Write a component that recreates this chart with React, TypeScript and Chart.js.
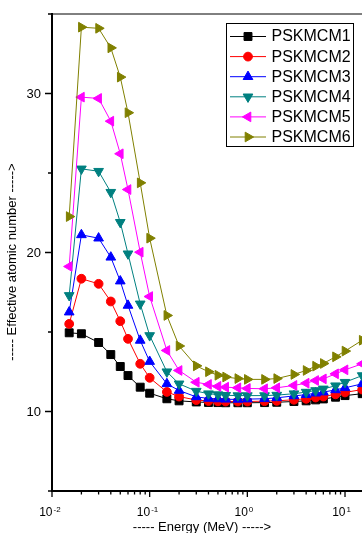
import React, { useEffect, useRef } from 'react';
import { Chart, registerables } from 'chart.js';

Chart.register(...registerables);

// ---------- data ----------
const energies = [0.015, 0.02, 0.03, 0.04, 0.05, 0.06, 0.08, 0.1, 0.15, 0.2, 0.3, 0.4, 0.5, 0.6, 0.8, 1, 1.5, 2, 3, 4, 5, 6, 8, 10, 15];

const pskmcm1 = [14.95, 14.89, 14.34, 13.58, 12.83, 12.26, 11.53, 11.15, 10.8, 10.67, 10.6, 10.57, 10.56, 10.55, 10.55, 10.55, 10.56, 10.58, 10.63, 10.67, 10.73, 10.79, 10.9, 11.0, 11.12];
const pskmcm2 = [15.51, 18.35, 18.03, 16.92, 15.68, 14.57, 13.0, 12.12, 11.23, 10.94, 10.72, 10.66, 10.64, 10.63, 10.63, 10.63, 10.65, 10.67, 10.74, 10.8, 10.88, 10.94, 11.08, 11.2, 11.38];
const pskmcm3 = [16.25, 21.11, 20.9, 19.7, 18.2, 16.67, 14.47, 13.14, 11.74, 11.32, 10.92, 10.82, 10.79, 10.77, 10.76, 10.78, 10.8, 10.86, 10.98, 11.06, 11.15, 11.22, 11.36, 11.49, 11.74];
const pskmcm4 = [17.3, 25.26, 25.11, 23.79, 21.9, 19.92, 16.77, 14.78, 12.5, 11.74, 11.28, 11.12, 11.06, 11.02, 11.0, 11.0, 11.0, 11.03, 11.12, 11.22, 11.32, 11.42, 11.62, 11.84, 12.26];
const pskmcm5 = [19.12, 29.77, 29.69, 28.26, 26.21, 23.96, 20.02, 17.23, 13.84, 12.58, 11.84, 11.7, 11.58, 11.53, 11.49, 11.45, 11.43, 11.49, 11.64, 11.78, 11.95, 12.05, 12.37, 12.62, 13.0];
const pskmcm6 = [22.26, 34.17, 34.1, 32.87, 31.03, 28.79, 24.38, 20.9, 16.04, 14.12, 12.87, 12.5, 12.28, 12.17, 12.07, 12.02, 12.02, 12.07, 12.33, 12.58, 12.85, 13.02, 13.44, 13.8, 14.48];

const seriesValues = [pskmcm1, pskmcm2, pskmcm3, pskmcm4, pskmcm5, pskmcm6];
const seriesNames = ['PSKMCM1', 'PSKMCM2', 'PSKMCM3', 'PSKMCM4', 'PSKMCM5', 'PSKMCM6'];

const yMajorTicks = [10, 20, 30];
const yMinorTicks = [5, 15, 25, 35];
const xMajorTicks = [0.01, 0.1, 1, 10];
const xMajorExponents = ['-2', '-1', '0', '1'];
const xMinorMultipliers = [2, 3, 4, 5, 6, 7, 8, 9];
const xTitle = '----- Energy (MeV) ----->';
const yTitle = '----- Effective atomic number ----->';

// ---------- styles ----------
const seriesColors = ['#000000', '#ff0000', '#0000ff', '#008080', '#ff00ff', '#808000'];
const markerStyles = ['rect', 'circle', 'triangle', 'triangle', 'triangle', 'triangle'];
const markerRotations = [0, 0, 0, 180, 270, 90];
const markerRadii = [5.6, 4.4, 5.6, 5.6, 5.6, 5.6];

const FONT = "'Liberation Sans', Arial, Helvetica, sans-serif";
const CANVAS_W = 400;
const CANVAS_H = 533;
const X_MIN = 0.01;
const X_MAX = 20;
const PLOT_LEFT = 52;
const PLOT_TOP = 14;
const PLOT_BOTTOM = 491;
const DECADE_PX = 97.67;
const PLOT_RIGHT = PLOT_LEFT + DECADE_PX * Math.log10(X_MAX / X_MIN);

function drawMarker(ctx: CanvasRenderingContext2D, style: string, x: number, y: number, r: number, rot: number, color: string) {
  ctx.save();
  ctx.fillStyle = color;
  ctx.strokeStyle = color;
  ctx.lineWidth = 1;
  ctx.beginPath();
  if (style === 'rect') {
    const s = Math.SQRT1_2 * r;
    ctx.rect(x - s, y - s, 2 * s, 2 * s);
  } else if (style === 'circle') {
    ctx.arc(x, y, r, 0, Math.PI * 2);
  } else {
    let rad = (rot * Math.PI) / 180;
    ctx.moveTo(x + Math.sin(rad) * r, y - Math.cos(rad) * r);
    rad += (2 * Math.PI) / 3;
    ctx.lineTo(x + Math.sin(rad) * r, y - Math.cos(rad) * r);
    rad += (2 * Math.PI) / 3;
    ctx.lineTo(x + Math.sin(rad) * r, y - Math.cos(rad) * r);
    ctx.closePath();
  }
  ctx.fill();
  ctx.stroke();
  ctx.restore();
}

const decorPlugin = {
  id: 'decor',
  afterDraw(chart: any) {
    const { ctx, chartArea } = chart;
    const xs = chart.scales.x;
    const ys = chart.scales.y;
    const left = chartArea.left;
    const bottom = chartArea.bottom;
    const top = chartArea.top;
    ctx.save();

    // top border (thin)
    ctx.strokeStyle = '#000';
    ctx.lineWidth = 1;
    ctx.beginPath();
    ctx.moveTo(left, top);
    ctx.lineTo(CANVAS_W, top);
    ctx.stroke();

    // left + bottom axes
    ctx.lineWidth = 2;
    ctx.beginPath();
    ctx.moveTo(left, top - 1);
    ctx.lineTo(left, bottom + 1);
    ctx.moveTo(left - 1, bottom);
    ctx.lineTo(CANVAS_W, bottom);
    ctx.stroke();

    // y ticks
    ctx.lineWidth = 1.3;
    ctx.beginPath();
    yMajorTicks.forEach((v) => {
      const py = ys.getPixelForValue(v);
      ctx.moveTo(left - 7, py);
      ctx.lineTo(left, py);
    });
    yMinorTicks.forEach((v) => {
      const py = ys.getPixelForValue(v);
      ctx.moveTo(left - 4, py);
      ctx.lineTo(left, py);
    });
    // x ticks
    xMajorTicks.forEach((v) => {
      const px = xs.getPixelForValue(v);
      ctx.moveTo(px, bottom);
      ctx.lineTo(px, bottom + 6);
      xMinorMultipliers.forEach((m) => {
        const mv = v * m;
        if (mv <= X_MAX) {
          const mx = xs.getPixelForValue(mv);
          ctx.moveTo(mx, bottom);
          ctx.lineTo(mx, bottom + 3.5);
        }
      });
    });
    ctx.stroke();

    // y labels
    ctx.fillStyle = '#000';
    ctx.font = `13px ${FONT}`;
    ctx.textAlign = 'right';
    ctx.textBaseline = 'middle';
    yMajorTicks.forEach((v) => {
      ctx.fillText(String(v), left - 11, ys.getPixelForValue(v) + 0.5);
    });

    // x labels with superscript exponent
    ctx.textBaseline = 'alphabetic';
    xMajorTicks.forEach((v, i) => {
      const px = xs.getPixelForValue(v);
      ctx.font = `12px ${FONT}`;
      ctx.textAlign = 'right';
      ctx.fillText('10', px + 0.5, 516);
      ctx.font = `8px ${FONT}`;
      ctx.textAlign = 'left';
      ctx.fillText(xMajorExponents[i], px + 1.5, 511.5);
    });

    // axis titles
    ctx.font = `13px ${FONT}`;
    ctx.textAlign = 'center';
    ctx.textBaseline = 'alphabetic';
    ctx.fillText(xTitle, 202, 531);
    ctx.save();
    ctx.translate(12, 262);
    ctx.rotate(-Math.PI / 2);
    ctx.textBaseline = 'middle';
    ctx.fillText(yTitle, 0, 0);
    ctx.restore();

    // legend
    const bx = 226.5, by = 23.5, bw = 127, bh = 123;
    ctx.fillStyle = '#fff';
    ctx.fillRect(bx, by, bw, bh);
    ctx.strokeStyle = '#000';
    ctx.lineWidth = 1;
    ctx.strokeRect(bx, by, bw, bh);
    ctx.font = `16px ${FONT}`;
    ctx.textAlign = 'left';
    ctx.textBaseline = 'middle';
    chart.data.datasets.forEach((ds: any, i: number) => {
      const ry = 36.5 + i * 20.1;
      ctx.strokeStyle = ds.borderColor;
      ctx.lineWidth = 1;
      ctx.beginPath();
      ctx.moveTo(230, ry);
      ctx.lineTo(266, ry);
      ctx.stroke();
      drawMarker(ctx, ds.pointStyle, 248, ry, ds.pointRadius, ds.pointRotation, ds.borderColor);
      ctx.fillStyle = '#000';
      ctx.fillText(ds.label, 271.5, ry + 0.5);
    });

    ctx.restore();
  },
};

export default function App() {
  const ref = useRef<HTMLCanvasElement>(null);
  useEffect(() => {
    const canvas = ref.current;
    if (!canvas) return;
    const datasets = seriesValues.map((vals, i) => ({
      label: seriesNames[i],
      data: energies.map((e, j) => ({ x: e, y: vals[j] })),
      borderColor: seriesColors[i],
      backgroundColor: seriesColors[i],
      pointBackgroundColor: seriesColors[i],
      pointBorderColor: seriesColors[i],
      pointBorderWidth: 1,
      borderWidth: 1,
      pointStyle: markerStyles[i],
      pointRotation: markerRotations[i],
      pointRadius: markerRadii[i],
      pointHoverRadius: markerRadii[i],
      tension: 0,
      order: seriesValues.length - i,
    }));
    const chart = new Chart(canvas, {
      type: 'line',
      data: { datasets },
      options: {
        animation: false,
        responsive: false,
        maintainAspectRatio: false,
        devicePixelRatio: 1,
        layout: { padding: { top: PLOT_TOP, right: CANVAS_W - PLOT_RIGHT, left: 0, bottom: 0 } },
        plugins: { legend: { display: false }, tooltip: { enabled: false } },
        events: [],
        scales: {
          x: {
            type: 'logarithmic',
            min: X_MIN,
            max: X_MAX,
            ticks: { display: false },
            grid: { display: false },
            border: { display: false },
            afterFit: (s: any) => { s.height = CANVAS_H - PLOT_BOTTOM; },
          },
          y: {
            type: 'linear',
            min: 5,
            max: 35,
            ticks: { display: false },
            grid: { display: false },
            border: { display: false },
            afterFit: (s: any) => { s.width = PLOT_LEFT; },
          },
        },
      } as any,
      plugins: [decorPlugin],
    } as any);
    return () => chart.destroy();
  }, []);
  return (
    <div style={{ position: 'fixed', left: 0, top: 0, width: 362, height: 533, overflow: 'hidden', background: '#fff' }}>
      <canvas ref={ref} width={CANVAS_W} height={CANVAS_H} style={{ display: 'block' }} />
    </div>
  );
}
